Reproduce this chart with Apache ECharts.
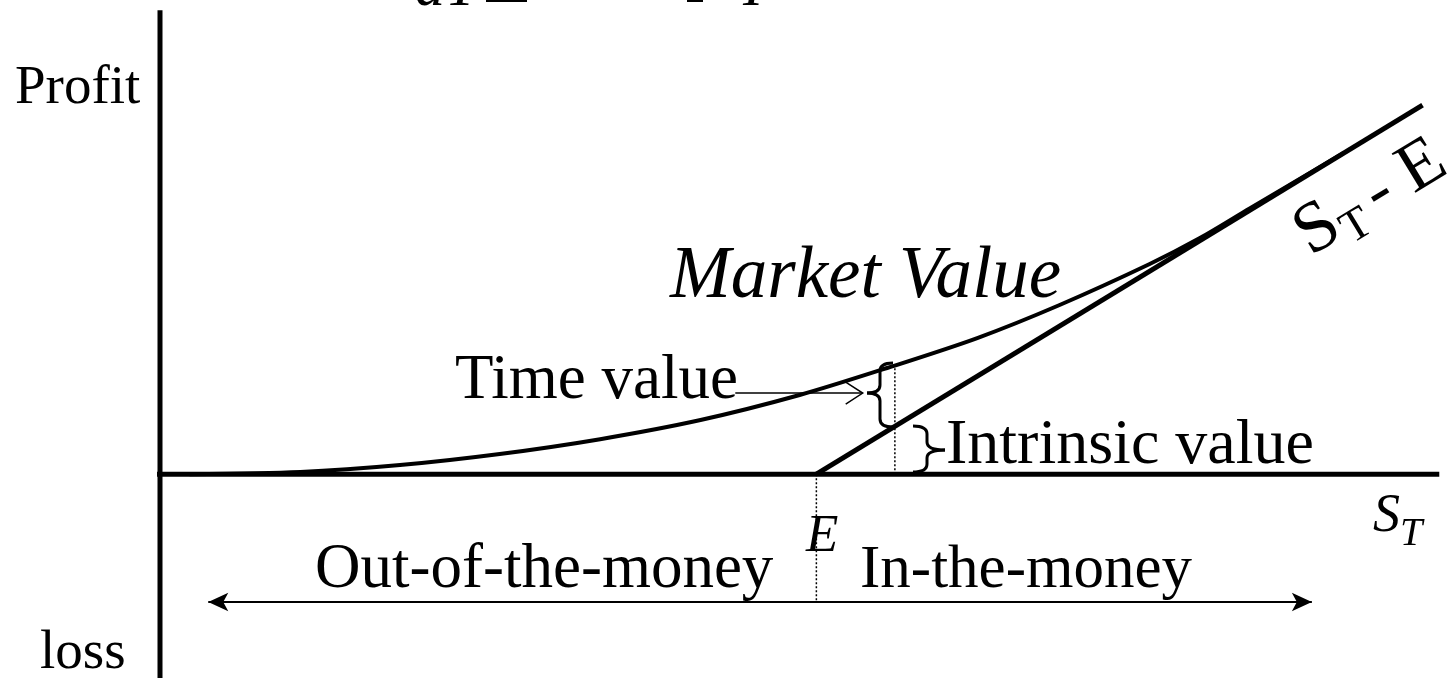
<!DOCTYPE html>
<html><head><meta charset="utf-8">
<script src="https://cdn.jsdelivr.net/npm/echarts@6/dist/echarts.min.js"></script>
<style>html,body{margin:0;padding:0;background:#fff}#c{width:1447px;height:678px}</style>
</head><body><div id="c"></div>
<script>
// ---- data ----
const strikeE = 51;
const marketS = [2.3, 10.9, 18.65, 26.4, 34.2, 42.0, 49.7, 56.5, 63.5, 69.9, 76.9, 80.8, 84.7, 92.0];
const marketV = [0, 0.28, 1.17, 2.58, 4.47, 6.91, 10.1, 13.55, 17.37, 21.59, 26.82, 30.13, 33.94, 41.0];
const payoffS = [51, 98.1];
const axisXS = [-0.5, 99.4];
const axisYV = [-26, 59.2];
const zoneY = -16.3;
const zoneS = [3.75, 89.5];
const markS = 57.1;
const markTop = 13.9;
const timeArrowS = [44.7, 54.6];
const timeArrowV = 10.36;

const serif = "'Liberation Serif','Times New Roman',serif";
const black = '#000';

const chart = echarts.init(document.getElementById('c'), null, {renderer: 'canvas'});

function lineSeries(data, width, type) {
  return {type: 'line', data: data, symbol: 'none', silent: true, animation: false,
    lineStyle: {color: black, width: width, type: type || 'solid', cap: 'butt'}, z: 3};
}

const payoffData = payoffS.map(s => [s, Math.max(s - strikeE, 0)]);
const marketData = marketS.map((s, i) => [s, marketV[i]]);

const option = {
  animation: false,
  backgroundColor: '#fff',
  grid: {left: 160, right: 0, top: 0, bottom: 0},
  xAxis: {type: 'value', min: 0, max: 100, show: false},
  yAxis: {type: 'value', min: -26, max: 60.5, show: false},
  series: [
    lineSeries(axisXS.map(s => [s, 0]), 5),
    lineSeries(axisYV.map(v => [0, v]), 5),
    lineSeries(payoffData, 5),
    Object.assign(lineSeries(marketData, 4), {smooth: 0.3}),
    lineSeries([[strikeE, 0], [strikeE, zoneY]], 1.5, [2, 2]),
    lineSeries([[markS, 0], [markS, markTop]], 1.5, [2, 2]),
    lineSeries(timeArrowS.map(s => [s, timeArrowV]), 1.5),
    {
      type: 'line', data: [], silent: true,
      markLine: {
        silent: true, animation: false,
        symbol: ['arrow', 'arrow'], symbolSize: [14, 20],
        label: {show: false},
        lineStyle: {color: black, width: 2, type: 'solid'},
        data: [[{coord: [zoneS[0], zoneY]}, {coord: [zoneS[1], zoneY]}]]
      }
    }
  ]
};
chart.setOption(option);

function txt(text, x, baseline, size, opts) {
  opts = opts || {};
  return {
    type: 'text', silent: true, z: 10,
    style: {
      text: text, x: x, y: baseline - 0.305 * size,
      font: (opts.italic ? 'italic ' : '') + size + 'px ' + serif,
      fill: black, textAlign: opts.align || 'left', textVerticalAlign: 'middle'
    }
  };
}

function brace(x0, xs, xt, yTop, yMid, yBot) {
  const r = 8;
  const st = {stroke: black, lineWidth: 3, fill: null};
  const bz = (x1, y1, x2, y2, cx, cy) => ({type: 'bezierCurve', silent: true,
    shape: {x1: x1, y1: y1, x2: x2, y2: y2, cpx1: cx, cpy1: cy}, style: st});
  const ln = (x1, y1, x2, y2) => ({type: 'line', silent: true,
    shape: {x1: x1, y1: y1, x2: x2, y2: y2}, style: st});
  return {type: 'group', z: 10, children: [
    bz(x0, yTop, xs, yTop + r, xs, yTop),
    ln(xs, yTop + r, xs, yMid - r),
    bz(xs, yMid - r, xt, yMid, xs, yMid),
    bz(xt, yMid, xs, yMid + r, xs, yMid),
    ln(xs, yMid + r, xs, yBot - r),
    bz(xs, yBot - r, x0, yBot, xs, yBot)
  ]};
}

const pArrow = chart.convertToPixel({gridIndex: 0}, [timeArrowS[1], timeArrowV]);

const graphics = [
  // partially visible formula at top
  txt('dT', 415, 8, 60, {italic: true}),
  {type: 'rect', silent: true, shape: {x: 486, y: 0, width: 41, height: 2}, style: {fill: black}},
  {type: 'rect', silent: true, shape: {x: 687, y: 0, width: 16, height: 2}, style: {fill: black}},
  txt('I', 743, 8, 60, {italic: true}),

  txt('Profit', 15, 105, 55),
  txt('loss', 40, 670, 55),
  txt('Market Value', 670, 300, 73, {italic: true}),
  txt('Time value', 455, 401, 63),
  txt('Intrinsic value', 946, 466, 64),
  txt('Out-of-the-money', 315, 590, 63),
  txt('In-the-money', 860, 590, 61),
  txt('E', 806, 553, 53, {italic: true}),
  txt('S', 1373, 533, 54, {italic: true}),
  txt('T', 1400, 547, 40, {italic: true}),
  {
    type: 'group', x: 1312, y: 259, rotation: 0.546, silent: true,
    children: [
      txt('S', 0, 0, 72),
      txt('T', 41, 10, 46),
      txt('- E', 80, 0, 70)
    ]
  },
  // time value arrow head
  {type: 'polyline', silent: true, z: 10,
    shape: {points: [[pArrow[0] - 17, pArrow[1] - 11], [pArrow[0], pArrow[1]], [pArrow[0] - 17, pArrow[1] + 11]]},
    style: {stroke: black, lineWidth: 1.5, fill: null}},
  brace(893, 880, 867, 363, 393, 427),
  brace(913, 927, 945, 426, 450, 472)
];
chart.setOption({graphic: graphics});
</script>
</body></html>
